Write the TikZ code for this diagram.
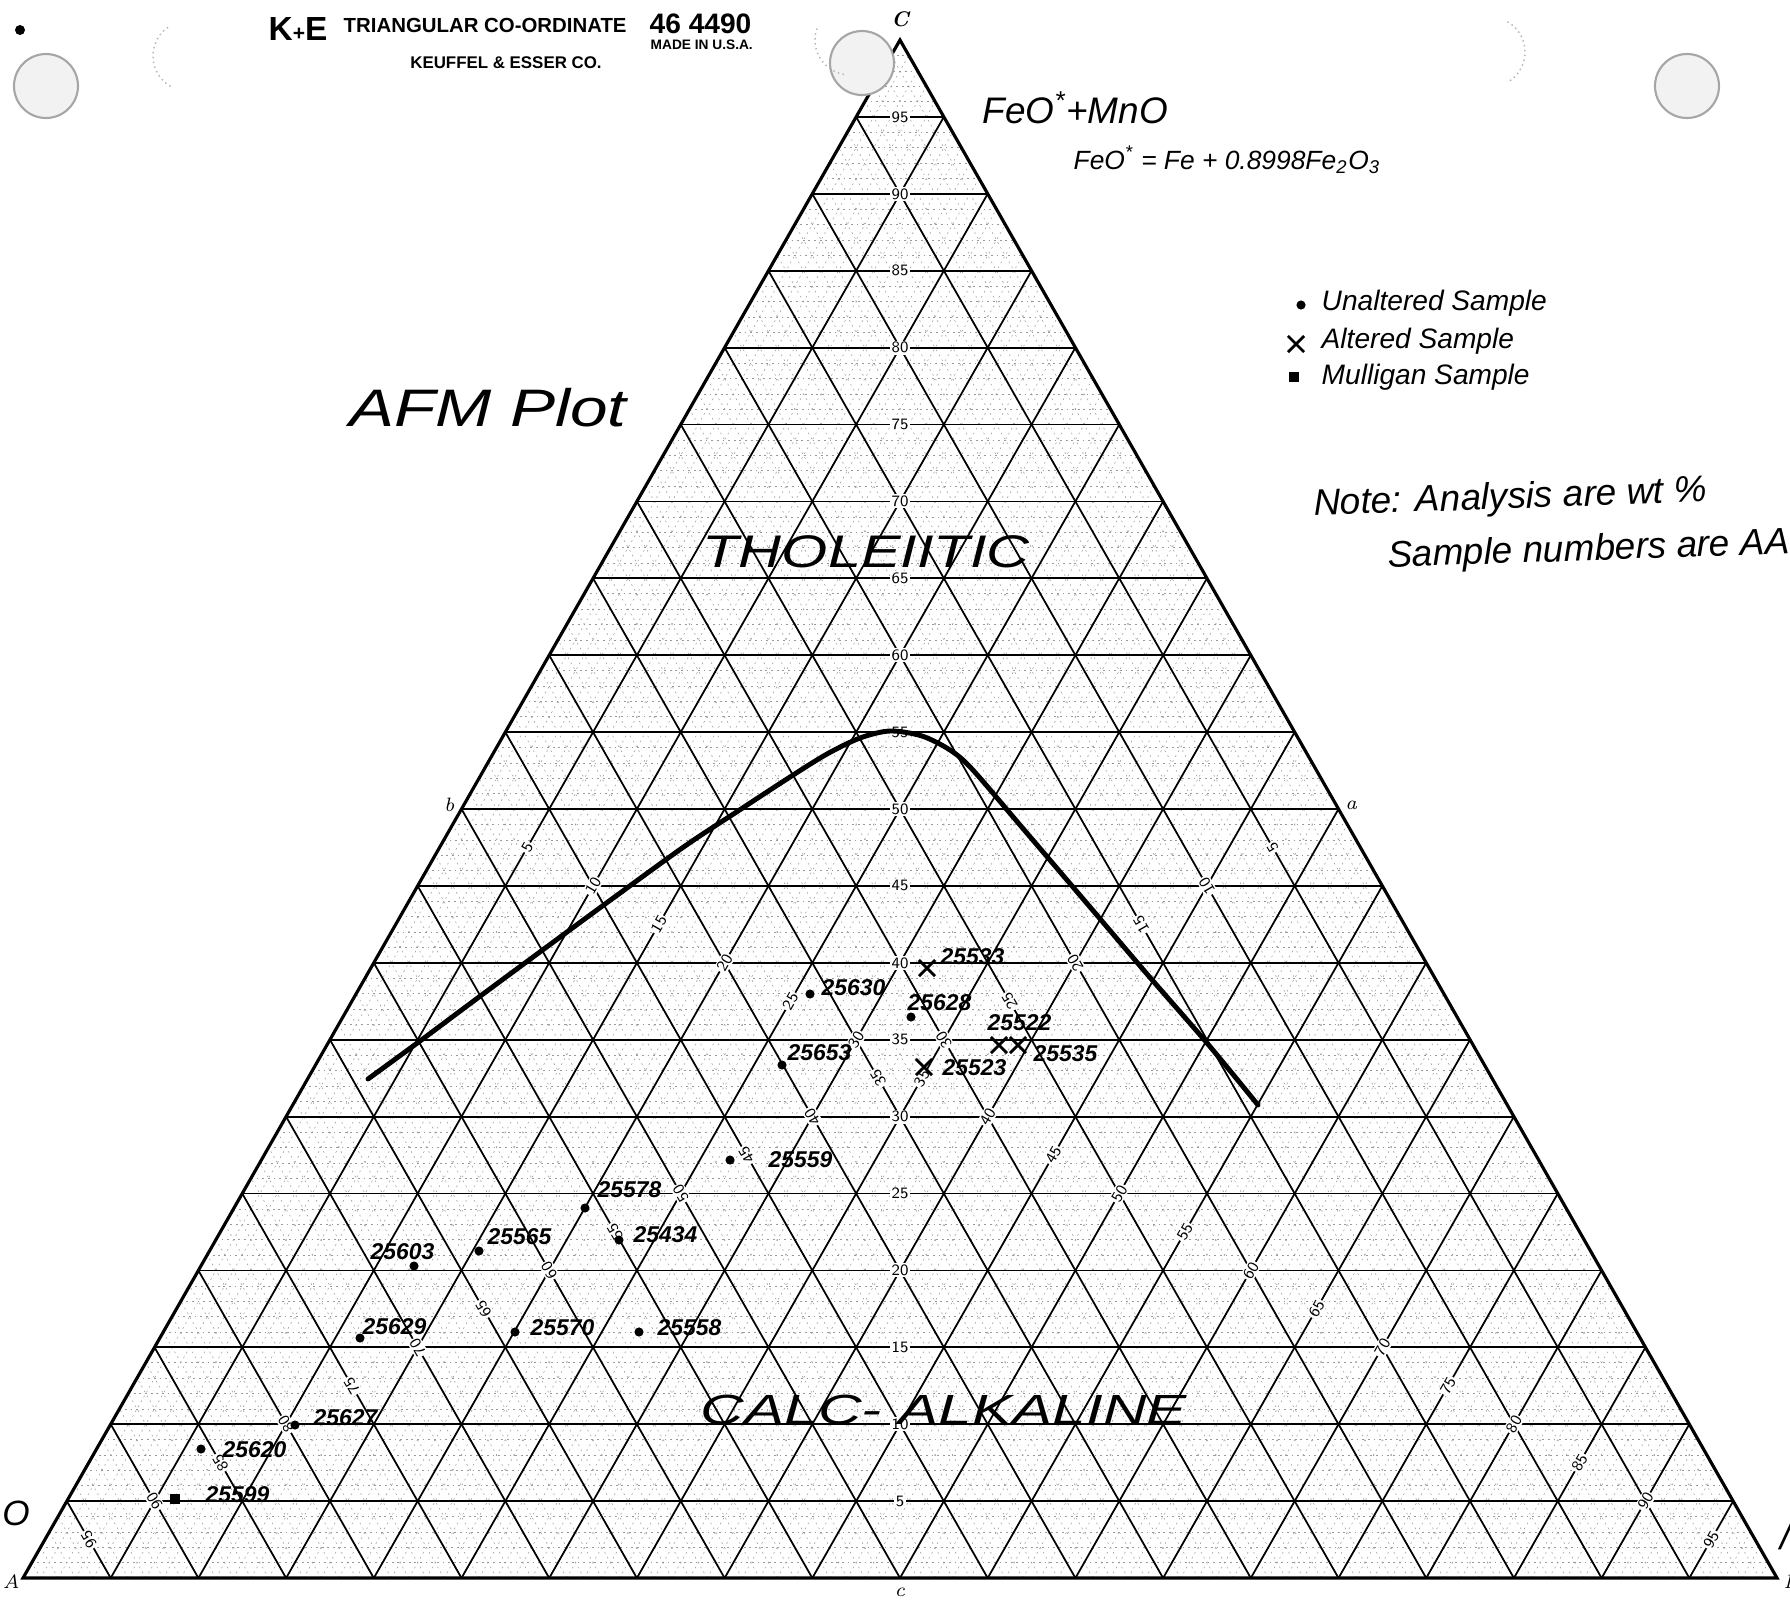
\documentclass[tikz,border=0pt]{standalone}
\usepackage{fontspec}
\usepackage{tikz}
\usetikzlibrary{calc,positioning,shapes.misc}
\newfontfamily\handfont{Liberation Sans}
\newfontfamily\printfont{Liberation Sans}
\definecolor{papergray}{gray}{0.6}
\tikzset{
  fine/.style={papergray, line width=0.15pt, dash pattern=on 0.5pt off 1.1pt},
  major/.style={black, line width=0.5pt},
  frame/.style={black, line width=0.9pt, line join=miter},
  scalelbl/.style={font=\sffamily\fontsize{4.5}{5}\selectfont, fill=white, inner sep=0.4pt},
  corner/.style={font=\itshape\fontsize{5.5}{6}\selectfont, inner sep=0.5pt},
  sample/.style={circle, fill=black, inner sep=0pt, minimum size=2.6pt},
  altered/.style={cross out, draw, line width=0.8pt, inner sep=0pt, minimum size=3.8pt},
  mulligan/.style={rectangle, fill=black, inner sep=0pt, minimum size=2.8pt},
  numlbl/.style={font=\handfont\bfseries\itshape\fontsize{6.5}{7}\selectfont, anchor=west, inner sep=0pt},
  hand/.style={font=\handfont\itshape, inner sep=0pt},
  printed/.style={font=\printfont\bfseries, inner sep=0pt},
  hole/.style={draw=gray!70, line width=0.6pt, fill=gray!10},
  faint/.style={gray!60, line width=0.4pt, densely dotted}
}
\begin{document}
\begin{tikzpicture}[x=0.01cm, y=-0.01cm]
    \useasboundingbox (0,0) rectangle (1790,1599);
    \fill[white] (0,0) rectangle (1790,1599);

    \coordinate (A) at (23,1578);
    \coordinate (B) at (1777,1578);
    \coordinate (C) at (900,40);
    \coordinate (a) at ($(B)!0.5!(C)$);
    \coordinate (b) at ($(A)!0.5!(C)$);
    \coordinate (c) at ($(A)!0.5!(B)$);

    \foreach \i in {1,...,99}{
      \draw[fine] ($(A)!\i/100!(C)$) -- ($(B)!\i/100!(C)$);
      \draw[fine] ($(A)!\i/100!(B)$) -- ($(A)!\i/100!(C)$);
      \draw[fine] ($(B)!\i/100!(A)$) -- ($(B)!\i/100!(C)$);
    }
    \foreach \i in {5,10,...,95}{
      \draw[major] ($(A)!\i/100!(C)$) -- ($(B)!\i/100!(C)$);
      \draw[major] ($(A)!\i/100!(B)$) -- ($(A)!\i/100!(C)$);
      \draw[major] ($(B)!\i/100!(A)$) -- ($(B)!\i/100!(C)$);
    }
    \draw[frame] (A) -- (B) -- (C) -- cycle;

    \foreach \v in {5,10,...,95}{
      \node[scalelbl] (cs\v) at ($(c)!\v/100!(C)$) {\v};
      \node[scalelbl, rotate=60] (bs\v) at ($(b)!\v/100!(B)$) {\v};
      \node[scalelbl, rotate=120] (as\v) at ($(a)!\v/100!(A)$) {\v};
    }

    \node[corner, font=\bfseries\itshape\fontsize{6}{7}\selectfont] (lC) at (900,19) {C};
    \node[corner, anchor=east] (lA) at (22,1582) {A};
    \node[corner, anchor=west] (lB) at (1781,1582) {B};
    \node[corner] (lc) at (900,1592) {c};
    \node[corner, anchor=east] (lb) at (457,805) {b};
    \node[corner, anchor=west] (la) at (1343,805) {a};

    \draw[hole] (46,86) circle (32);
    \draw[hole] (862,63) circle (32);
    \draw[hole] (1687,86) circle (32);
    \fill[black] (20,30) circle (5);
    \draw[faint] (188,56) ++(120:35) arc (120:240:35);
    \draw[faint] (850,40) ++(100:35) arc (100:200:35);
    \draw[faint] (1490,52) ++(-60:35) arc (-60:60:35);

    \node[printed, font=\printfont\bfseries\fontsize{9.5}{10}\selectfont] (logo) at (298,29) {K{\fontsize{6}{7}\selectfont+}E};
    \node[printed, font=\printfont\bfseries\fontsize{5.8}{6}\selectfont, anchor=west] (paper) at (343,25) {TRIANGULAR CO-ORDINATE};
    \node[printed, font=\printfont\bfseries\fontsize{8}{9}\selectfont, anchor=west] (catno) at (649,24) {46 4490};
    \node[printed, font=\printfont\bfseries\fontsize{3.9}{4}\selectfont, anchor=west] (usa) at (650,45) {MADE IN U.S.A.};
    \node[printed, font=\printfont\bfseries\fontsize{4.8}{5}\selectfont] (maker) at (506,63) {KEUFFEL \& ESSER CO.};

    \node[hand, font=\handfont\itshape\fontsize{10.5}{12}\selectfont, anchor=west] (total) at (982,108) {FeO\textsuperscript{*}+MnO};
    \node[hand, font=\handfont\itshape\fontsize{7.5}{9}\selectfont, anchor=west] (feo) at (1073,160) {FeO\textsuperscript{*} = Fe + 0.8998Fe\textsubscript{2}O\textsubscript{3}};
    \node[hand, font=\handfont\itshape\fontsize{15}{18}\selectfont, xscale=1.28] (afm) at (488,408) {AFM Plot};
    \node[hand, font=\handfont\itshape\fontsize{13}{15}\selectfont, xscale=1.3] (thol) at (866,552) {THOLEIITIC};
    \node[hand, font=\handfont\itshape\fontsize{12}{14}\selectfont, xscale=1.43] (calc) at (944,1410) {CALC- ALKALINE};
    \node[hand, font=\handfont\itshape\fontsize{10}{12}\selectfont] (cutO) at (16,1513) {O};
    \node[hand, font=\handfont\itshape\fontsize{11}{12}\selectfont] (cutM) at (1786,1536) {/};

    \node[sample] (keyu) at (1301,305) {};
    \node[altered] (keyx) at (1296,344) {};
    \node[mulligan] (keym) at (1294,377) {};
    \node[hand, font=\handfont\itshape\fontsize{8}{9}\selectfont, anchor=west] (tu) at (1321,303) {Unaltered Sample};
    \node[hand, font=\handfont\itshape\fontsize{8}{9}\selectfont, anchor=west] (tx) at (1321,341) {Altered Sample};
    \node[hand, font=\handfont\itshape\fontsize{8}{9}\selectfont, anchor=west] (tm) at (1321,377) {Mulligan Sample};

    \node[hand, font=\handfont\itshape\fontsize{10.5}{12}\selectfont, anchor=west, rotate=2] (note1) at (1313,506) {Note: Analysis are wt \%};
    \node[hand, font=\handfont\itshape\fontsize{10.5}{12}\selectfont, anchor=west, rotate=2] (note2) at (1387,558) {Sample numbers are AA};

    \draw[black, line width=1.4pt, line cap=round] plot[smooth, tension=0.5] coordinates {
      (368,1079) (420,1041) (479,997) (548,946) (616,896) (685,846) (738,811)
      (790,777) (827,754) (860,738) (890,731) (922,736) (950,750) (972,769)
      (1020,825) (1090,907) (1147,974) (1207,1043) (1258,1105)};

    \node[sample] (s25630) at (810,994) {};
    \node[sample] (s25628) at (911,1017) {};
    \node[sample] (s25653) at (782,1065) {};
    \node[sample] (s25559) at (730,1160) {};
    \node[sample] (s25578) at (585,1208) {};
    \node[sample] (s25434) at (619,1240) {};
    \node[sample] (s25565) at (479,1251) {};
    \node[sample] (s25603) at (414,1266) {};
    \node[sample] (s25629) at (360,1338) {};
    \node[sample] (s25570) at (515,1332) {};
    \node[sample] (s25558) at (639,1332) {};
    \node[sample] (s25627) at (295,1425) {};
    \node[sample] (s25620) at (201,1449) {};
    \node[mulligan] (s25599) at (175,1499) {};
    \node[altered] (s25533) at (927,968) {};
    \node[altered] (s25523) at (924,1067) {};
    \node[altered] (s25522) at (999,1045) {};
    \node[altered] (s25535) at (1018,1045) {};

    \node[numlbl] (l25630) at (821,988) {25630};
    \node[numlbl] (l25628) at (907,1003) {25628};
    \node[numlbl] (l25653) at (787,1053) {25653};
    \node[numlbl] (l25559) at (768,1160) {25559};
    \node[numlbl] (l25578) at (597,1190) {25578};
    \node[numlbl] (l25434) at (633,1235) {25434};
    \node[numlbl] (l25565) at (487,1237) {25565};
    \node[numlbl] (l25603) at (370,1252) {25603};
    \node[numlbl] (l25629) at (362,1327) {25629};
    \node[numlbl] (l25570) at (530,1328) {25570};
    \node[numlbl] (l25558) at (657,1328) {25558};
    \node[numlbl] (l25627) at (313,1418) {25627};
    \node[numlbl] (l25620) at (222,1450) {25620};
    \node[numlbl] (l25599) at (205,1495) {25599};
    \node[numlbl] (l25533) at (940,957) {25533};
    \node[numlbl] (l25523) at (942,1068) {25523};
    \node[numlbl] (l25522) at (987,1023) {25522};
    \node[numlbl] (l25535) at (1033,1054) {25535};
\end{tikzpicture}
\end{document}
